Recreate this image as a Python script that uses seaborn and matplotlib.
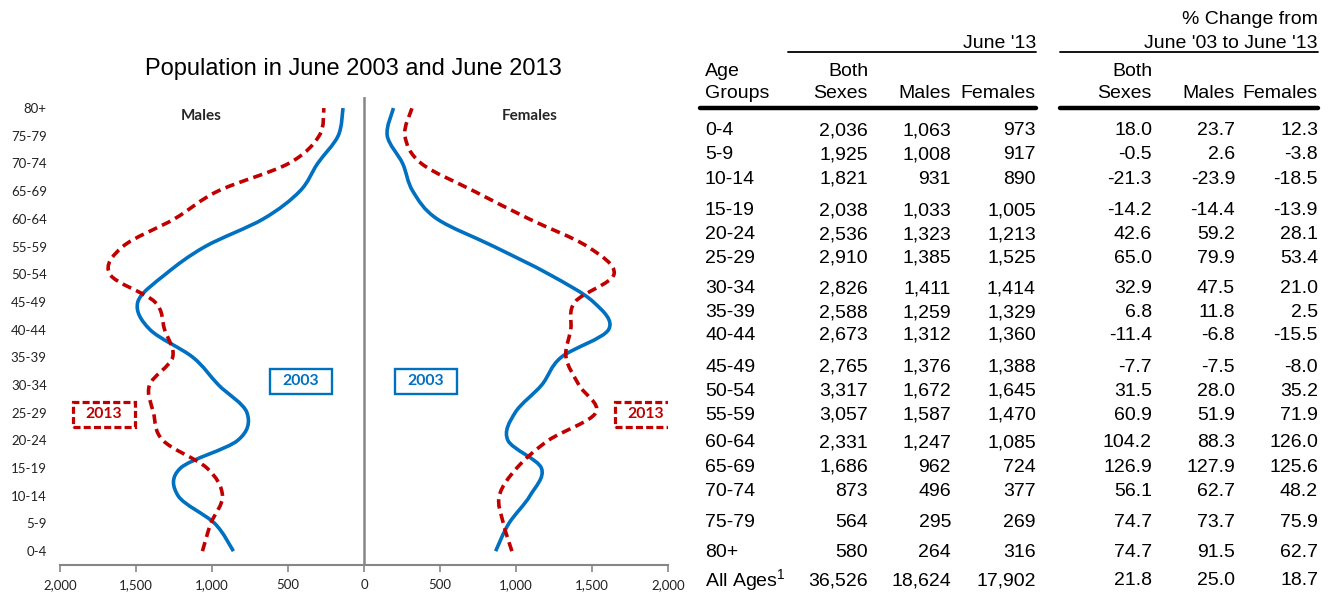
import numpy as np
import pandas as pd
import matplotlib
matplotlib.use("Agg")
import matplotlib.pyplot as plt
import seaborn as sns
from matplotlib.path import Path
from matplotlib.patches import PathPatch, Rectangle
from matplotlib.lines import Line2D

# ---------------- data ----------------
age_groups = ["0-4", "5-9", "10-14", "15-19", "20-24", "25-29", "30-34", "35-39",
              "40-44", "45-49", "50-54", "55-59", "60-64", "65-69", "70-74", "75-79", "80+"]
males_2003 = [859, 982, 1223, 1207, 831, 770, 957, 1126, 1408, 1488, 1306, 1045, 662, 422, 305, 170, 138]
females_2003 = [866, 953, 1092, 1167, 947, 994, 1169, 1297, 1609, 1509, 1217, 855, 480, 321, 254, 153, 194]
males_2013 = [1063, 1008, 931, 1033, 1323, 1385, 1411, 1259, 1312, 1376, 1672, 1587, 1247, 962, 496, 295, 264]
females_2013 = [973, 917, 890, 1005, 1213, 1525, 1414, 1329, 1360, 1388, 1645, 1470, 1085, 724, 377, 269, 316]
both_2013 = [2036, 1925, 1821, 2038, 2536, 2910, 2826, 2588, 2673, 2765, 3317, 3057, 2331, 1686, 873, 564, 580]
pct_both = [18.0, -0.5, -21.3, -14.2, 42.6, 65.0, 32.9, 6.8, -11.4, -7.7, 31.5, 60.9, 104.2, 126.9, 56.1, 74.7, 74.7]
pct_males = [23.7, 2.6, -23.9, -14.4, 59.2, 79.9, 47.5, 11.8, -6.8, -7.5, 28.0, 51.9, 88.3, 127.9, 62.7, 73.7, 91.5]
pct_females = [12.3, -3.8, -18.5, -13.9, 28.1, 53.4, 21.0, 2.5, -15.5, -8.0, 35.2, 71.9, 126.0, 125.6, 48.2, 75.9, 62.7]
total_2013 = [36526, 18624, 17902]
total_pct = [21.8, 25.0, 18.7]
x_ticks = [-2000, -1500, -1000, -500, 0, 500, 1000, 1500, 2000]

# ---------------- style ----------------
sns.set_theme(style="white")
plt.rcParams["font.family"] = ["Liberation Sans", "DejaVu Sans"]
plt.rcParams["mathtext.fontset"] = "custom"
plt.rcParams["mathtext.rm"] = "Liberation Sans"
plt.rcParams["mathtext.it"] = "Liberation Sans"

W, H = 1332, 594
fig = plt.figure(figsize=(W / 100, H / 100), dpi=100)
fx = lambda x: x / W
fy = lambda y: 1 - (y + 1.5) / H   # text centre offset for table/title text
fl = lambda y: 1 - y / H           # exact pixel rows for lines / axes

BLUE = "#0070C0"
RED = "#C00000"
GRAY = "#868686"

ax = fig.add_axes([fx(60), fl(565), fx(668) - fx(60), fl(97) - fl(565)])

ypos = np.arange(len(age_groups))
df = pd.concat([
    pd.DataFrame({"x": -np.array(males_2003), "y": ypos, "series": "M2003"}),
    pd.DataFrame({"x": -np.array(males_2013), "y": ypos, "series": "M2013"}),
    pd.DataFrame({"x": np.array(females_2003), "y": ypos, "series": "F2003"}),
    pd.DataFrame({"x": np.array(females_2013), "y": ypos, "series": "F2013"}),
])

styles = {"M2003": (BLUE, "solid"), "F2003": (BLUE, "solid"),
          "M2013": (RED, (0, (2.6, 1.5))), "F2013": (RED, (0, (2.6, 1.5)))}


def smooth_path(xy):
    """Excel-style smoothed line through the points (cubic Bezier, Catmull-Rom)."""
    n = len(xy)
    verts = [xy[0]]
    codes = [Path.MOVETO]
    for i in range(n - 1):
        p0 = xy[max(i - 1, 0)]
        p1 = xy[i]
        p2 = xy[i + 1]
        p3 = xy[min(i + 2, n - 1)]
        c1 = p1 + (p2 - p0) / 6.0
        c2 = p2 - (p3 - p1) / 6.0
        verts += [c1, c2, p2]
        codes += [Path.CURVE4] * 3
    return Path(np.array(verts), codes)


for key, (col, ls) in styles.items():
    sub = df[df["series"] == key]
    sns.lineplot(data=sub, x="x", y="y", sort=False, orient="y", estimator=None,
                 color=col, ax=ax, legend=False)
    line = ax.lines[-1]
    xy = np.column_stack(line.get_data()).astype(float)
    line.set_visible(False)
    patch = PathPatch(smooth_path(xy), fill=False, edgecolor=col, lw=2.6,
                      linestyle=ls, capstyle="butt", joinstyle="round")
    ax.add_patch(patch)

ax.set_xlim(-2000, 2000)
ax.set_ylim(-0.5, 16.4)
ax.axvline(0, color=GRAY, lw=1.8, zorder=1)

for s in ["top", "right", "left"]:
    ax.spines[s].set_visible(False)
ax.spines["bottom"].set_color(GRAY)
ax.spines["bottom"].set_linewidth(1.5)

ax.set_xticks(x_ticks)
ax.set_xticklabels([f"{abs(v):,}" for v in x_ticks], family="Lato", fontsize=9.5, color="#222222")
ax.set_yticks(ypos)
ax.set_yticklabels(age_groups, family="Lato", fontsize=9.5, color="#222222")
ax.tick_params(axis="x", direction="out", length=5, width=1.2, color=GRAY, pad=5, bottom=True)
ax.tick_params(axis="y", length=0, pad=9.5)
ax.set_xlabel("")
ax.set_ylabel("")
ax.grid(False)

ax.text(-1072, 15.7, "Males", ha="center", va="center", fontsize=11, fontweight="bold", family="Lato")
ax.text(1092, 15.7, "Females", ha="center", va="center", fontsize=11, fontweight="bold", family="Lato")

# label boxes (legend)
bw, bh = 62 / 608 * 4000, 25 / 468 * 16.9
for cx, cy, txt, col, ls in [(-414, 6.14, "2003", BLUE, "solid"),
                             (408, 6.14, "2003", BLUE, "solid"),
                             (-1711, 4.95, "2013", RED, (0, (2.2, 1.0))),
                             (1855, 4.95, "2013", RED, (0, (2.2, 1.0)))]:
    ax.add_patch(Rectangle((cx - bw / 2, cy - bh / 2), bw, bh, fill=False, edgecolor=col,
                           lw=1.7 if ls == "solid" else 2.3, linestyle=ls, zorder=3))
    ax.text(cx, cy, txt, ha="center", va="center", color=col, fontsize=11.3,
            fontweight="bold", family="Lato", zorder=4)

fig.text(fx(353), fy(68), "Population in June 2003 and June 2013", ha="center", va="center",
         fontsize=17, color="black")

# ---------------- table ----------------
FS = 14
TXT = dict(fontsize=FS, color="black", va="center")
col_right = [868, 951, 1036, 1152, 1235, 1318]
row_y = [129, 153, 178, 209, 233, 257, 287, 311, 334, 366, 390, 414, 441, 466, 490, 521, 551]

fig.text(fx(1318), fy(18), "% Change from", ha="right", **TXT)
fig.text(fx(1036), fy(42), "June '13", ha="right", **TXT)
fig.text(fx(1318), fy(42), "June '03 to June '13", ha="right", **TXT)
fig.text(fx(705), fy(70), "Age", ha="left", **TXT)
fig.text(fx(705), fy(92), "Groups", ha="left", **TXT)
fig.text(fx(868), fy(70), "Both", ha="right", **TXT)
fig.text(fx(868), fy(92), "Sexes", ha="right", **TXT)
fig.text(fx(951), fy(92), "Males", ha="right", **TXT)
fig.text(fx(1036), fy(92), "Females", ha="right", **TXT)
fig.text(fx(1152), fy(70), "Both", ha="right", **TXT)
fig.text(fx(1152), fy(92), "Sexes", ha="right", **TXT)
fig.text(fx(1235), fy(92), "Males", ha="right", **TXT)
fig.text(fx(1318), fy(92), "Females", ha="right", **TXT)

for (x0, x1, y, lw) in [(788, 1036, 52, 1.3), (1060, 1318, 52, 1.3),
                        (700, 1036, 108, 3.2), (1060, 1318, 108, 3.2)]:
    fig.add_artist(Line2D([fx(x0), fx(x1)], [fl(y), fl(y)], color="black", lw=lw,
                          transform=fig.transFigure))

for i, ag in enumerate(age_groups):
    y = fy(row_y[i])
    vals = [f"{both_2013[i]:,}", f"{males_2013[i]:,}", f"{females_2013[i]:,}",
            f"{pct_both[i]:.1f}", f"{pct_males[i]:.1f}", f"{pct_females[i]:.1f}"]
    fig.text(fx(705), y, ag, ha="left", **TXT)
    for xr, v in zip(col_right, vals):
        fig.text(fx(xr), y, v, ha="right", **TXT)

yt = fy(579)
fig.text(fx(705), yt, r"All Ages$^\mathrm{1}$", ha="left", **TXT)
tvals = [f"{v:,}" for v in total_2013] + [f"{v:.1f}" for v in total_pct]
for xr, v in zip(col_right, tvals):
    fig.text(fx(xr), yt, v, ha="right", **TXT)

fig.savefig("out.png", dpi=100, facecolor="white")
